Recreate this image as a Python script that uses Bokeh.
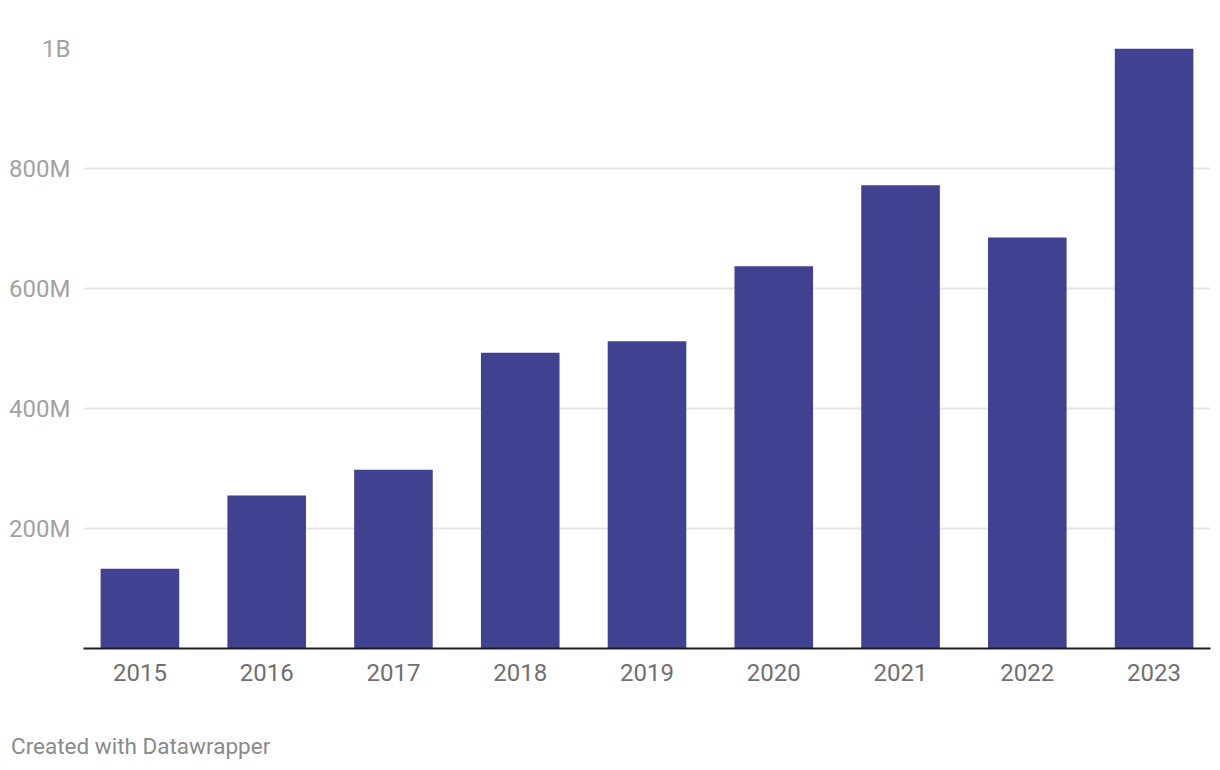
from bokeh.plotting import figure
from bokeh.models import Range1d, FixedTicker, Div
from bokeh.layouts import column
from bokeh.embed import file_html
from bokeh.resources import INLINE

years = ["2015", "2016", "2017", "2018", "2019", "2020", "2021", "2022", "2023"]
values = [133e6, 255e6, 298e6, 493e6, 512e6, 637e6, 772e6, 685e6, 1000e6]
y_ticks = [200e6, 400e6, 600e6, 800e6, 1000e6]
y_tick_labels = ["200M", "400M", "600M", "800M", "1B"]
footer = "Created with Datawrapper"

xs = list(range(len(years)))

p = figure(width=1220, height=733, output_backend="svg", toolbar_location=None,
           x_range=Range1d(-0.445, len(years) - 1 + 0.445), y_range=Range1d(0, 1e9),
           min_border_left=83, min_border_right=10, min_border_top=48, min_border_bottom=85)
p.outline_line_color = None
p.background_fill_color = "white"
p.border_fill_color = "white"

p.vbar(x=xs, top=values, width=0.62, bottom=0, color="#404190", line_color=None)

# x axis
xa = p.xaxis[0]
xa.ticker = FixedTicker(ticks=xs)
xa.major_label_overrides = {i: y for i, y in enumerate(years)}
xa.axis_line_color = "#1e1e1e"
xa.axis_line_width = 2
xa.major_tick_line_color = None
xa.minor_tick_line_color = None
xa.major_label_text_font = "Roboto"
xa.major_label_text_font_size = "24px"
xa.major_label_text_color = "#6f6f6f"
xa.major_label_standoff = 9

# y axis
ya = p.yaxis[0]
ya.ticker = FixedTicker(ticks=y_ticks)
ya.major_label_overrides = {t: l for t, l in zip(y_ticks, y_tick_labels)}
ya.axis_line_color = None
ya.major_tick_line_color = None
ya.minor_tick_line_color = None
ya.major_label_text_font = "Roboto"
ya.major_label_text_font_size = "24px"
ya.major_label_text_color = "#a2a2a2"
ya.major_label_standoff = 7

p.xgrid.grid_line_color = None
p.ygrid.grid_line_color = "#e5e5e5"
p.ygrid.grid_line_width = 2

div = Div(text=footer, width=1220, height=37, margin=(0, 0, 0, 0),
          styles={"font-family": "Roboto", "font-size": "22.5px", "color": "#8a8a8a",
                  "padding-left": "11px", "line-height": "normal", "background": "white"})

layout = column(p, div, spacing=0)

open("out.html", "w").write(file_html(layout, INLINE))
